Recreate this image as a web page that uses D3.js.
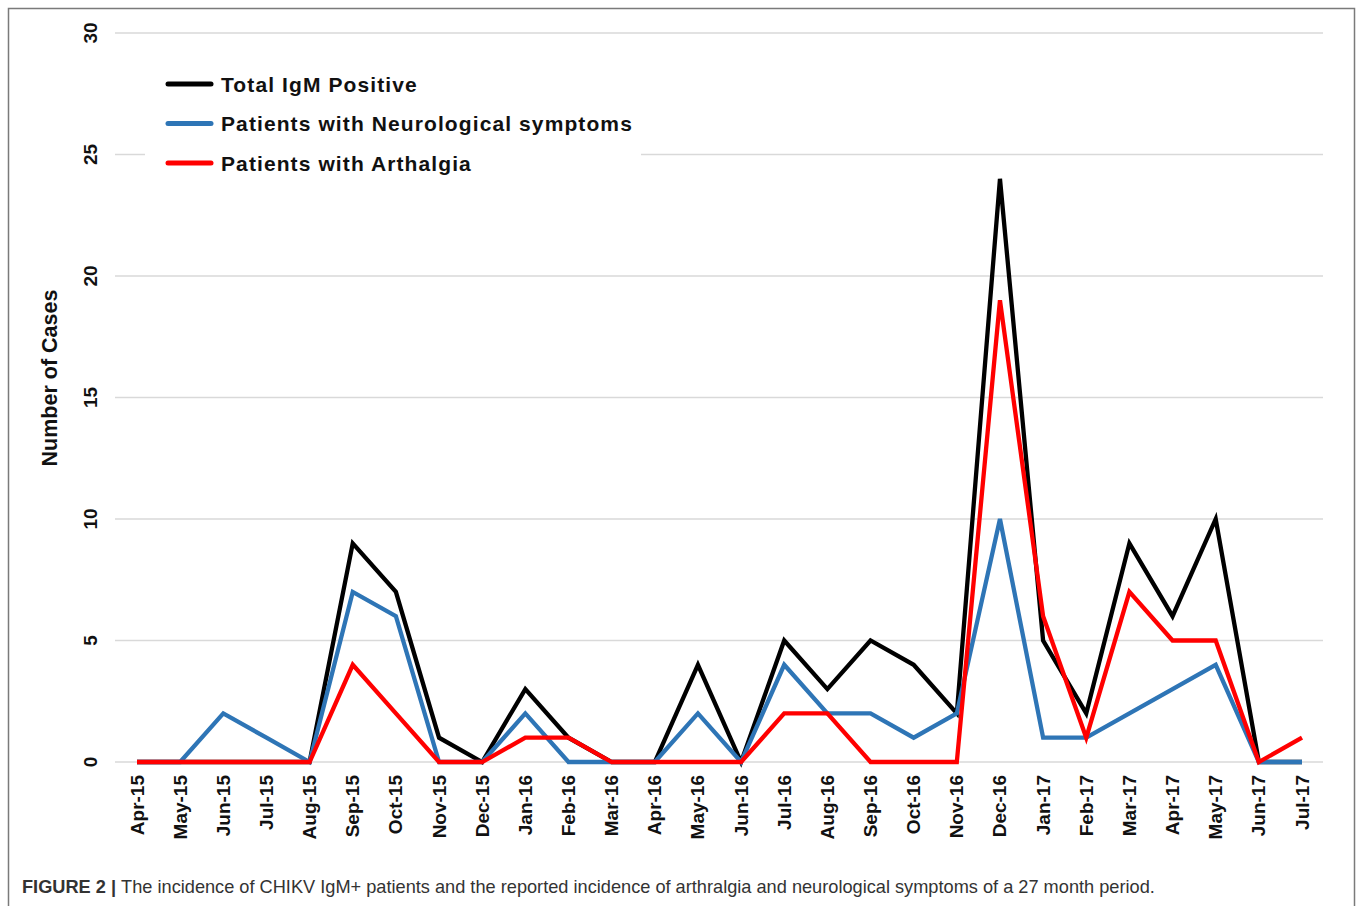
<!DOCTYPE html>
<html>
<head>
<meta charset="utf-8">
<script src="https://cdn.jsdelivr.net/npm/d3@7"></script>
<style>
  html, body { margin: 0; padding: 0; background: #fff; }
  svg { display: block; font-family: "Liberation Sans", Arial, sans-serif; }
</style>
</head>
<body>
<svg id="chart" width="1358" height="906"></svg>
<script>
// months on the x axis
const months = ["Apr-15","May-15","Jun-15","Jul-15","Aug-15","Sep-15","Oct-15","Nov-15","Dec-15",
  "Jan-16","Feb-16","Mar-16","Apr-16","May-16","Jun-16","Jul-16","Aug-16","Sep-16","Oct-16","Nov-16","Dec-16",
  "Jan-17","Feb-17","Mar-17","Apr-17","May-17","Jun-17","Jul-17"];

// series values
const totalIgM = [0,0,0,0,0,9,7,1,0,3,1,0,0,4,0,5,3,5,4,2,24,5,2,9,6,10,0,0];
const neuro    = [0,0,2,1,0,7,6,0,0,2,0,0,0,2,0,4,2,2,1,2,10,1,1,2,3,4,0,0];
const arthralgia = [0,0,0,0,0,4,2,0,0,1,1,0,0,0,0,2,2,0,0,0,19,6,1,7,5,5,0,1];

const yTicks = [0,5,10,15,20,25,30];
const seriesNames = ["Total IgM Positive","Patients with Neurological symptoms","Patients with Arthalgia"];
const seriesColors = ["#000000","#2e75b6","#ff0000"];

const svg = d3.select('#chart');

// outer frame
svg.append('rect')
  .attr('x', 8.5).attr('y', 8.5)
  .attr('width', 1346).attr('height', 930)
  .attr('fill', 'none').attr('stroke', '#7a7a7a').attr('stroke-width', 1.5);

// SCALES
const x = d3.scalePoint().domain(months).range([137, 1302]);
const y = d3.scaleLinear().domain([0, 30]).range([762, 33]);

// GRID LINES
svg.append('g')
  .selectAll('line')
  .data(yTicks)
  .join('line')
  .attr('x1', 115).attr('x2', 1323)
  .attr('y1', d => y(d)).attr('y2', d => y(d))
  .attr('stroke', '#d9d9d9').attr('stroke-width', 1.5);

// Y TICK LABELS (rotated)
svg.append('g')
  .selectAll('text')
  .data(yTicks)
  .join('text')
  .attr('transform', d => `translate(90,${y(d)}) rotate(-90)`)
  .attr('text-anchor', 'middle')
  .attr('dominant-baseline', 'central')
  .attr('font-size', '19px')
  .attr('font-weight', 'bold')
  .attr('fill', '#111')
  .text(d => d);

// Y AXIS TITLE
svg.append('text')
  .attr('transform', 'translate(50,378) rotate(-90)')
  .attr('text-anchor', 'middle')
  .attr('dominant-baseline', 'central')
  .attr('font-size', '21.5px')
  .attr('font-weight', 'bold')
  .attr('fill', '#111')
  .text('Number of Cases');

// X TICK LABELS (rotated)
svg.append('g')
  .selectAll('text')
  .data(months)
  .join('text')
  .attr('transform', d => `translate(${x(d)},775) rotate(-90)`)
  .attr('text-anchor', 'end')
  .attr('dominant-baseline', 'central')
  .attr('font-size', '19px')
  .attr('font-weight', 'bold')
  .attr('fill', '#111')
  .text(d => d);

// LEGEND background (hides the gridline behind it)
svg.append('rect')
  .attr('x', 145).attr('y', 60)
  .attr('width', 496).attr('height', 122)
  .attr('fill', '#fff');

// LINES
const line = d3.line()
  .x((d, i) => x(months[i]))
  .y(d => y(d));

[totalIgM, neuro, arthralgia].forEach((vals, k) => {
  svg.append('path')
    .datum(vals)
    .attr('fill', 'none')
    .attr('stroke', seriesColors[k])
    .attr('stroke-width', 4.3)
    .attr('stroke-linejoin', 'miter')
    .attr('d', line);
});

// LEGEND
const legend = svg.append('g');
seriesNames.forEach((name, k) => {
  const ly = 84 + k * 39.5;
  legend.append('line')
    .attr('x1', 168).attr('x2', 211)
    .attr('y1', ly).attr('y2', ly)
    .attr('stroke', seriesColors[k])
    .attr('stroke-width', 5)
    .attr('stroke-linecap', 'round');
  legend.append('text')
    .attr('x', 221).attr('y', ly)
    .attr('dominant-baseline', 'central')
    .attr('font-size', '21px')
    .attr('font-weight', 'bold')
    .attr('letter-spacing', '1.1px')
    .attr('fill', '#111')
    .text(name);
});

// CAPTION
const cap = svg.append('text')
  .attr('x', 22).attr('y', 893)
  .attr('font-size', '18.2px')
  .attr('fill', '#333');
cap.append('tspan').attr('font-weight', 'bold').text('FIGURE 2 | ');
cap.append('tspan')
  .text('The incidence of CHIKV IgM+ patients and the reported incidence of arthralgia and neurological symptoms of a 27 month period.');
</script>
</body>
</html>
